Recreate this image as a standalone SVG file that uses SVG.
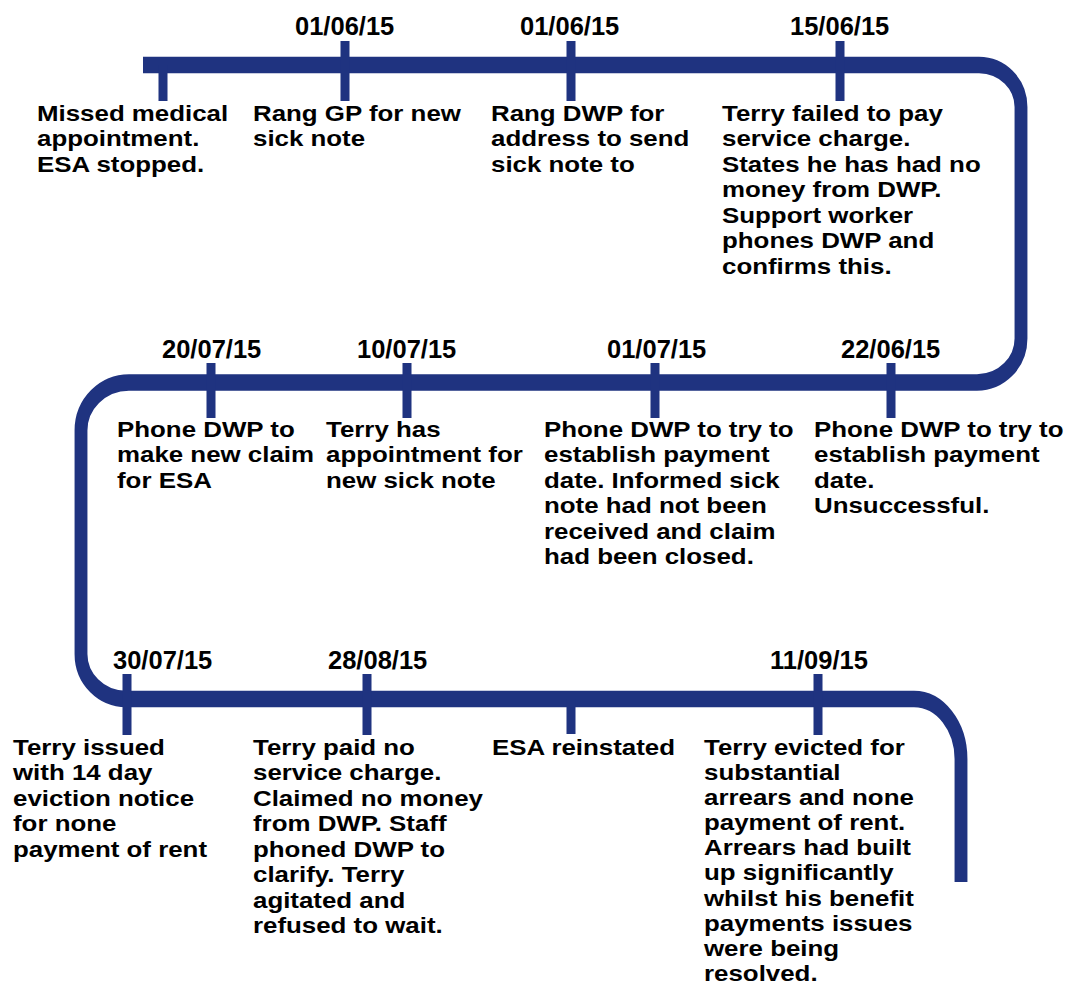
<svg xmlns="http://www.w3.org/2000/svg" width="1070" height="985" viewBox="0 0 1070 985">
<style>
.line{fill:none;stroke:#1f3380;stroke-width:16.5;stroke-linecap:butt;stroke-linejoin:round}
.tick{fill:#1f3380}
.date{font-family:"Liberation Sans",Arial,sans-serif;font-weight:bold;font-size:25.5px;fill:#000}
.lbl{font-family:"Liberation Sans",Arial,sans-serif;font-weight:bold;font-size:22.5px;fill:#000}
</style>
<rect width="1070" height="985" fill="#fff"/>
<g id="connectors">
<g transform="scale(0.78,1)">
<path class="line" d="M183.33 65 H1255.13 A53.85 42 0 0 1 1308.97 107 V338.5 A56.41 44 0 0 1 1252.56 382.5 H165.38 A61.54 48 0 0 0 103.85 430.5 V654 A57.69 45 0 0 0 161.54 699 H1171.79 A60.26 60 0 0 1 1232.05 759 V882"/>
</g>
<rect class="tick" x="158.5" y="65" width="9" height="36"/>
<rect class="tick" x="340.5" y="41" width="9" height="60"/>
<rect class="tick" x="566.5" y="41" width="9" height="60"/>
<rect class="tick" x="835.5" y="41" width="9" height="60"/>
<rect class="tick" x="206.5" y="363" width="9" height="55"/>
<rect class="tick" x="402.5" y="363" width="9" height="55"/>
<rect class="tick" x="650.5" y="363" width="9" height="55"/>
<rect class="tick" x="886.5" y="363" width="9" height="55"/>
<rect class="tick" x="122.5" y="674" width="9" height="61"/>
<rect class="tick" x="362.5" y="674" width="9" height="61"/>
<rect class="tick" x="566.5" y="699" width="9" height="35"/>
<rect class="tick" x="813.5" y="674" width="9" height="61"/>
</g>
<g id="n1">
<text class="lbl" transform="translate(37,121) scale(1.15,1)"><tspan x="0" dy="0">Missed medical</tspan><tspan x="0" dy="25.5">appointment.</tspan><tspan x="0" dy="25.5">ESA stopped.</tspan></text>
</g>
<g id="n2">
<text class="date" x="295" y="35">01/06/15</text>
<text class="lbl" transform="translate(253,121) scale(1.15,1)"><tspan x="0" dy="0">Rang GP for new</tspan><tspan x="0" dy="25.5">sick note</tspan></text>
</g>
<g id="n3">
<text class="date" x="520" y="35">01/06/15</text>
<text class="lbl" transform="translate(491,121) scale(1.15,1)"><tspan x="0" dy="0">Rang DWP for</tspan><tspan x="0" dy="25.5">address to send</tspan><tspan x="0" dy="25.5">sick note to</tspan></text>
</g>
<g id="n4">
<text class="date" x="790" y="35">15/06/15</text>
<text class="lbl" transform="translate(722,121) scale(1.15,1)"><tspan x="0" dy="0">Terry failed to pay</tspan><tspan x="0" dy="25.5">service charge.</tspan><tspan x="0" dy="25.5">States he has had no</tspan><tspan x="0" dy="25.5">money from DWP.</tspan><tspan x="0" dy="25.5">Support worker</tspan><tspan x="0" dy="25.5">phones DWP and</tspan><tspan x="0" dy="25.5">confirms this.</tspan></text>
</g>
<g id="n5">
<text class="date" x="841" y="358">22/06/15</text>
<text class="lbl" transform="translate(814,437) scale(1.15,1)"><tspan x="0" dy="0">Phone DWP to try to</tspan><tspan x="0" dy="25.5">establish payment</tspan><tspan x="0" dy="25.5">date.</tspan><tspan x="0" dy="25.5">Unsuccessful.</tspan></text>
</g>
<g id="n6">
<text class="date" x="607" y="358">01/07/15</text>
<text class="lbl" transform="translate(544,437) scale(1.15,1)"><tspan x="0" dy="0">Phone DWP to try to</tspan><tspan x="0" dy="25.5">establish payment</tspan><tspan x="0" dy="25.5">date. Informed sick</tspan><tspan x="0" dy="25.5">note had not been</tspan><tspan x="0" dy="25.5">received and claim</tspan><tspan x="0" dy="25.5">had been closed.</tspan></text>
</g>
<g id="n7">
<text class="date" x="357" y="358">10/07/15</text>
<text class="lbl" transform="translate(326,437) scale(1.15,1)"><tspan x="0" dy="0">Terry has</tspan><tspan x="0" dy="25.5">appointment for</tspan><tspan x="0" dy="25.5">new sick note</tspan></text>
</g>
<g id="n8">
<text class="date" x="162" y="358">20/07/15</text>
<text class="lbl" transform="translate(117,437) scale(1.15,1)"><tspan x="0" dy="0">Phone DWP to</tspan><tspan x="0" dy="25.5">make new claim</tspan><tspan x="0" dy="25.5">for ESA</tspan></text>
</g>
<g id="n9">
<text class="date" x="113" y="669">30/07/15</text>
<text class="lbl" transform="translate(13,755) scale(1.15,1)"><tspan x="0" dy="0">Terry issued</tspan><tspan x="0" dy="25.5">with 14 day</tspan><tspan x="0" dy="25.5">eviction notice</tspan><tspan x="0" dy="25.5">for none</tspan><tspan x="0" dy="25.5">payment of rent</tspan></text>
</g>
<g id="n10">
<text class="date" x="328" y="669">28/08/15</text>
<text class="lbl" transform="translate(253,755) scale(1.15,1)"><tspan x="0" dy="0">Terry paid no</tspan><tspan x="0" dy="25.5">service charge.</tspan><tspan x="0" dy="25.5">Claimed no money</tspan><tspan x="0" dy="25.5">from DWP. Staff</tspan><tspan x="0" dy="25.5">phoned DWP to</tspan><tspan x="0" dy="25.5">clarify. Terry</tspan><tspan x="0" dy="25.5">agitated and</tspan><tspan x="0" dy="25.5">refused to wait.</tspan></text>
</g>
<g id="n11">
<text class="lbl" transform="translate(492,755) scale(1.15,1)"><tspan x="0" dy="0">ESA reinstated</tspan></text>
</g>
<g id="n12">
<text class="date" x="770" y="669">11/09/15</text>
<text class="lbl" transform="translate(704,755) scale(1.15,1)"><tspan x="0" dy="0">Terry evicted for</tspan><tspan x="0" dy="25.1">substantial</tspan><tspan x="0" dy="25.1">arrears and none</tspan><tspan x="0" dy="25.1">payment of rent.</tspan><tspan x="0" dy="25.1">Arrears had built</tspan><tspan x="0" dy="25.1">up significantly</tspan><tspan x="0" dy="25.1">whilst his benefit</tspan><tspan x="0" dy="25.1">payments issues</tspan><tspan x="0" dy="25.1">were being</tspan><tspan x="0" dy="25.1">resolved.</tspan></text>
</g>
</svg>
